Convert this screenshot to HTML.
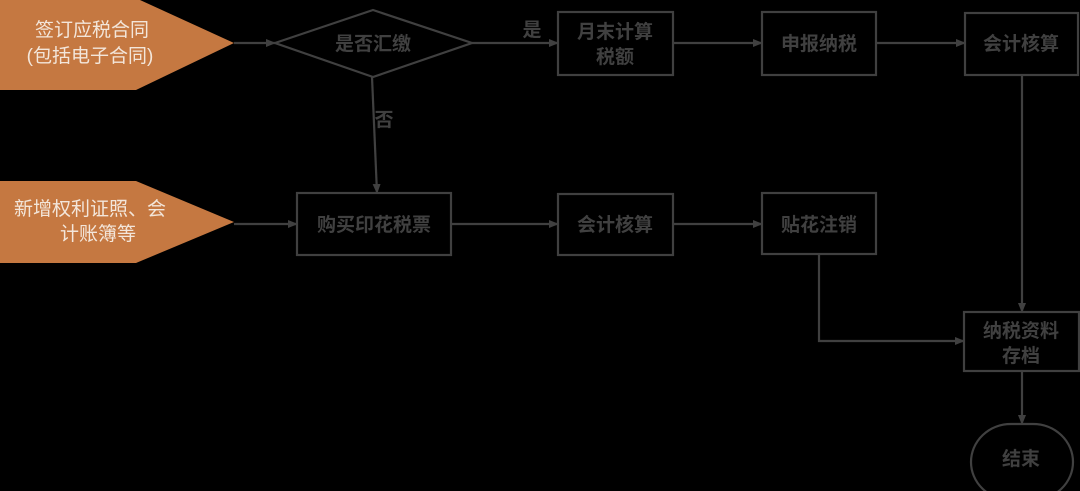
<!DOCTYPE html>
<html><head><meta charset="utf-8"><style>
html,body{margin:0;padding:0;background:#000;}
svg{display:block}
text{font-family:"Liberation Sans","Noto Sans CJK SC",sans-serif;}
</style></head><body>
<svg width="1080" height="491" viewBox="0 0 1080 491" xmlns="http://www.w3.org/2000/svg">
<defs><marker id="a" markerWidth="10" markerHeight="10" refX="9" refY="5" orient="auto" markerUnits="userSpaceOnUse"><path d="M0,1 L10,5 L0,9 Z" fill="#404040"/></marker></defs>
<rect width="1080" height="491" fill="#000"/>
<polygon points="0,0 140,0 234,43 136,90 0,90" fill="#c57841"/>
<polygon points="0,181 136,181 234,222 136,263 0,263" fill="#c57841"/>
<g fill="#f3e6da" font-size="19" text-anchor="middle">
<text x="92" y="36">签订应税合同</text>
<text x="90" y="62">(包括电子合同)</text>
<text x="90" y="215">新增权利证照、会</text>
<text x="98" y="240">计账簿等</text>
</g>
<g stroke="#404040" stroke-width="2.2" fill="none">
<polygon points="275,43 373,10 472,43 373,77"/>
<rect x="558" y="12" width="115" height="63"/>
<rect x="762" y="12" width="114" height="63"/>
<rect x="965" y="13" width="113" height="62"/>
<rect x="297" y="193" width="154" height="62"/>
<rect x="558" y="194" width="115" height="61"/>
<rect x="762" y="193" width="114" height="61"/>
<rect x="964" y="312" width="115" height="59"/>
<rect x="971" y="424" width="102" height="76" rx="40" ry="38"/>
<line x1="234" y1="43" x2="275" y2="43" marker-end="url(#a)"/>
<line x1="472" y1="43" x2="558" y2="43" marker-end="url(#a)"/>
<line x1="673" y1="43" x2="762" y2="43" marker-end="url(#a)"/>
<line x1="876" y1="43" x2="965" y2="43" marker-end="url(#a)"/>
<line x1="372" y1="77" x2="377" y2="193" marker-end="url(#a)"/>
<line x1="234" y1="224" x2="297" y2="224" marker-end="url(#a)"/>
<line x1="451" y1="224" x2="558" y2="224" marker-end="url(#a)"/>
<line x1="673" y1="224" x2="762" y2="224" marker-end="url(#a)"/>
<polyline points="819,254 819,341 964,341" marker-end="url(#a)"/>
<line x1="1022" y1="75" x2="1022" y2="312" marker-end="url(#a)"/>
<line x1="1022" y1="371" x2="1022" y2="424" marker-end="url(#a)"/>
</g>
<g fill="#404040" font-size="19" font-weight="bold" text-anchor="middle">
<text x="373" y="50">是否汇缴</text>
<text x="532" y="36">是</text>
<text x="384" y="126">否</text>
<text x="615" y="38">月末计算</text>
<text x="615" y="63">税额</text>
<text x="819" y="50">申报纳税</text>
<text x="1021" y="50">会计核算</text>
<text x="374" y="231">购买印花税票</text>
<text x="615" y="231">会计核算</text>
<text x="819" y="231">贴花注销</text>
<text x="1021" y="337">纳税资料</text>
<text x="1021" y="362">存档</text>
<text x="1021" y="465">结束</text>
</g>
</svg>
</body></html>
